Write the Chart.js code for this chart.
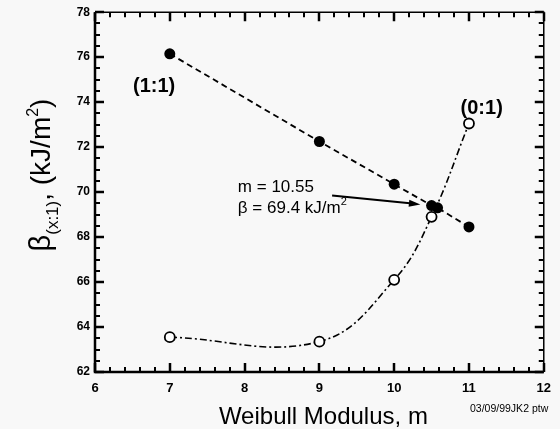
<!DOCTYPE html>
<html>
<head>
<meta charset="utf-8">
<script src="https://cdn.jsdelivr.net/npm/chart.js@4.4.1/dist/chart.umd.min.js"></script>
<style>
  html, body { margin: 0; padding: 0; background: #f8f8f8; }
  #wrap { width: 560px; height: 429px; }
</style>
</head>
<body>
<div id="wrap"><canvas id="chart" width="560" height="429"></canvas></div>
<script>
// (1:1) series - filled circles
const modulus11 = [7, 9, 10, 10.5, 10.58, 11];
const beta11 = [76.15, 72.25, 70.35, 69.4, 69.3, 68.45];
// (0:1) series - open circles
const modulus01 = [7, 9, 10, 10.5, 11];
const beta01 = [63.55, 63.35, 66.1, 68.9, 73.05];

const xRange = [6, 12];
const yRange = [62, 78];

const FONT = '"Liberation Sans", Arial, sans-serif';

function toPoints(xs, ys) {
  return xs.map((v, i) => ({ x: v, y: ys[i] }));
}

// frame + inward ticks on all four sides
const frameTicks = {
  id: 'frameTicks',
  afterDraw(chart) {
    const ctx = chart.ctx;
    const a = chart.chartArea;
    const x = chart.scales.x, y = chart.scales.y;
    ctx.save();
    ctx.setLineDash([]);
    ctx.strokeStyle = '#000';
    ctx.lineWidth = 2.5;
    ctx.beginPath();
    ctx.moveTo(a.left, a.top);
    ctx.lineTo(a.left, a.bottom);
    ctx.lineTo(a.right, a.bottom);
    ctx.stroke();
    ctx.lineWidth = 1.5;
    ctx.beginPath();
    ctx.moveTo(a.left, a.top);
    ctx.lineTo(a.right, a.top);
    ctx.lineTo(a.right, a.bottom);
    ctx.stroke();

    for (let i = 0; i <= 30; i++) {
      const px = Math.round(x.getPixelForValue(xRange[0] + i * 0.2));
      const major = i % 5 === 0;
      const len = major ? 9 : 5;
      ctx.lineWidth = major ? 2.5 : 2;
      ctx.beginPath();
      ctx.moveTo(px, a.bottom); ctx.lineTo(px, a.bottom - len);
      ctx.moveTo(px, a.top); ctx.lineTo(px, a.top + len);
      ctx.stroke();
    }
    for (let i = 0; i <= 32; i++) {
      const py = Math.round(y.getPixelForValue(yRange[0] + i * 0.5));
      const major = i % 4 === 0;
      const len = major ? 9 : 5;
      ctx.lineWidth = major ? 2.5 : 2;
      ctx.beginPath();
      ctx.moveTo(a.left, py); ctx.lineTo(a.left + len, py);
      ctx.moveTo(a.right, py); ctx.lineTo(a.right - len, py);
      ctx.stroke();
    }
    ctx.restore();
  }
};

// titles and annotations
const labels = {
  id: 'labels',
  afterDraw(chart) {
    const ctx = chart.ctx;
    const a = chart.chartArea;
    const x = chart.scales.x, y = chart.scales.y;
    ctx.save();
    ctx.setLineDash([]);
    ctx.fillStyle = '#000';

    // y title with subscript, rotated
    const parts = [
      { t: '\u03B2', f: '29px ' + FONT, dy: 0 },
      { t: '(x:1)', f: '17px ' + FONT, dy: 8 },
      { t: ', (kJ/m', f: '28px ' + FONT, dy: 0 },
      { t: '2', f: '16px ' + FONT, dy: -12 },
      { t: ')', f: '28px ' + FONT, dy: 0 }
    ];
    let total = 0;
    parts.forEach(p => { ctx.font = p.f; p.w = ctx.measureText(p.t).width; total += p.w; });
    ctx.translate(50, 175);
    ctx.rotate(-Math.PI / 2);
    ctx.textBaseline = 'alphabetic';
    ctx.textAlign = 'left';
    let cx = -total / 2;
    parts.forEach(p => { ctx.font = p.f; ctx.fillText(p.t, cx, p.dy); cx += p.w; });
    ctx.setTransform(1, 0, 0, 1, 0, 0);

    // x title
    ctx.font = '24px ' + FONT;
    ctx.textAlign = 'center';
    ctx.textBaseline = 'alphabetic';
    ctx.fillText('Weibull Modulus, m', (a.left + a.right) / 2 + 4, 424);

    // stamp
    ctx.font = '10.5px ' + FONT;
    ctx.textAlign = 'left';
    ctx.fillText('03/09/99JK2 ptw', 470, 412);

    // series labels
    ctx.font = 'bold 20px ' + FONT;
    ctx.textAlign = 'center';
    ctx.textBaseline = 'middle';
    ctx.fillText('(1:1)', x.getPixelForValue(6.79), y.getPixelForValue(74.7));
    ctx.fillText('(0:1)', x.getPixelForValue(11.17), y.getPixelForValue(73.7));

    // annotation
    ctx.font = '17px ' + FONT;
    ctx.textAlign = 'left';
    ctx.textBaseline = 'alphabetic';
    const tx = x.getPixelForValue(7.91);
    ctx.fillText('m = 10.55', tx, y.getPixelForValue(70.0));
    const s1 = '\u03B2 = 69.4 kJ/m';
    ctx.fillText(s1, tx, y.getPixelForValue(69.05));
    const w1 = ctx.measureText(s1).width;
    ctx.font = '11px ' + FONT;
    ctx.fillText('2', tx + w1, y.getPixelForValue(69.05) - 8);

    // arrow
    const x0 = x.getPixelForValue(9.17), y0 = y.getPixelForValue(69.85);
    const x1 = x.getPixelForValue(10.35), y1 = y.getPixelForValue(69.45);
    ctx.strokeStyle = '#000';
    ctx.lineWidth = 2;
    ctx.beginPath();
    ctx.moveTo(x0, y0);
    ctx.lineTo(x1 - 8, y1 - 1);
    ctx.stroke();
    const ang = Math.atan2(y1 - y0, x1 - x0);
    ctx.beginPath();
    ctx.moveTo(x1, y1);
    ctx.lineTo(x1 - 12 * Math.cos(ang - 0.3), y1 - 12 * Math.sin(ang - 0.3));
    ctx.lineTo(x1 - 12 * Math.cos(ang + 0.3), y1 - 12 * Math.sin(ang + 0.3));
    ctx.closePath();
    ctx.fill();
    ctx.restore();
  }
};

new Chart(document.getElementById('chart'), {
  type: 'scatter',
  data: {
    datasets: [{
      label: '(0:1)',
      data: toPoints(modulus01, beta01),
      showLine: true,
      tension: 0.4,
      borderColor: '#000',
      borderWidth: 1.6,
      borderDash: [7, 3, 2, 3],
      pointRadius: 5,
      pointBorderWidth: 1.8,
      pointBackgroundColor: '#fff',
      pointBorderColor: '#000'
    }, {
      label: '(1:1)',
      data: toPoints(modulus11, beta11),
      showLine: true,
      tension: 0,
      borderColor: '#000',
      borderWidth: 1.8,
      borderDash: [6, 4],
      pointRadius: 5.5,
      pointBorderWidth: 0,
      pointBackgroundColor: '#000',
      pointBorderColor: '#000'
    }]
  },
  options: {
    responsive: false,
    animation: false,
    devicePixelRatio: 1,
    layout: { padding: { top: 7, right: 9, left: 0, bottom: 0 } },
    plugins: { legend: { display: false }, tooltip: { enabled: false } },
    scales: {
      x: {
        type: 'linear',
        min: xRange[0], max: xRange[1],
        afterFit: s => { s.height = 57; },
        grid: { drawOnChartArea: false, drawTicks: false },
        border: { display: false },
        ticks: { stepSize: 1, padding: 9, color: '#000', font: { family: FONT, size: 13, weight: 'bold' } }
      },
      y: {
        type: 'linear',
        min: yRange[0], max: yRange[1],
        afterFit: s => { s.width = 95; },
        grid: { drawOnChartArea: false, drawTicks: false },
        border: { display: false },
        ticks: { stepSize: 2, padding: 5, color: '#000', font: { family: FONT, size: 12, weight: 'bold' } }
      }
    }
  },
  plugins: [frameTicks, labels]
});
</script>
</body>
</html>
